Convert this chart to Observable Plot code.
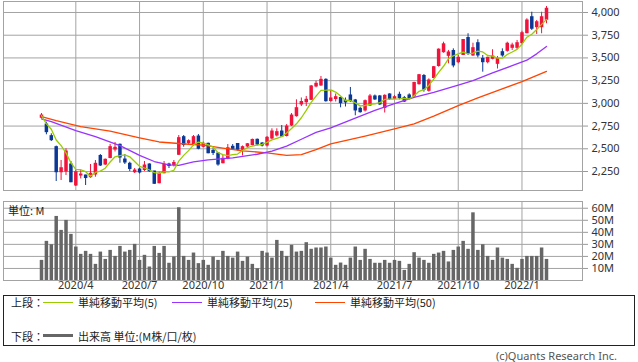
<!DOCTYPE html>
<html><head><meta charset="utf-8">
<script src="https://cdn.jsdelivr.net/npm/d3@7"></script>
<script src="https://cdn.jsdelivr.net/npm/@observablehq/plot@0.6"></script>
<style>
body{margin:0;background:#fff;}
#wrap{position:relative;width:638px;height:362px;overflow:hidden;font-family:"Noto Sans CJK JP","Noto Sans",sans-serif;color:#222;}
#price,#vol{position:absolute;left:0;}
#price{top:0;} #vol{top:200px;}
.t{position:absolute;font-size:11px;line-height:12px;white-space:nowrap;}
.sw{position:absolute;height:1px;}
#legend{position:absolute;left:3px;top:295px;width:630px;height:49px;border:1px solid #222;}
g[aria-label="y-axis"] .tick line, g[aria-label="y-axis tick"]{stroke:#999;}
</style></head>
<body><div id="wrap">
<div id="price"></div>
<div id="vol"></div>
<div class="t" style="left:8px;top:204px;">単位: M</div>
<div id="legend"></div>
<div class="t" style="left:11px;top:296px;">上段：</div>
<div class="sw" style="left:43px;top:302px;width:30px;background:#99cc00;"></div>
<div class="t" style="left:78px;top:296px;">単純移動平均(5)</div>
<div class="sw" style="left:172px;top:302px;width:30px;background:#9933ff;"></div>
<div class="t" style="left:207px;top:296px;">単純移動平均(25)</div>
<div class="sw" style="left:315px;top:302px;width:30px;background:#ff4500;"></div>
<div class="t" style="left:350px;top:296px;">単純移動平均(50)</div>
<div class="t" style="left:11px;top:330px;">下段：</div>
<div class="sw" style="left:43px;top:334px;width:30px;height:3px;background:#666;"></div>
<div class="t" style="left:78px;top:330px;">出来高 単位:(M株/口/枚)</div>
<div class="t" style="right:21px;top:350px;line-height:11px;color:#555;font-family:'Noto Sans',sans-serif;">(c)Quants Research Inc.</div>
</div>
<script>
// weekly candles, week starting 2020-02-10 through 2022-01-31
const firstWeek = "2020-02-10";
const lastWeekEnd = "2022-02-01";
const opens = [2841,2767,2639,2518,2242,2250,2327,2096,2206,2206,
2187,2217,2421,2327,2399,2492,2544,2382,2335,2242,
2272,2267,2327,2250,2121,2231,2327,2322,2434,2628,
2562,2553,2635,2522,2555,2476,2448,2341,2390,2522,
2553,2489,2525,2542,2599,2558,2536,2613,2646,2690,
2641,2756,2859,2988,3013,3039,3186,3197,3259,3026,
3048,3059,3028,3087,3032,2940,2922,2976,3076,3076,
2949,3098,3050,3094,3057,3087,3076,3211,3301,3138,
3279,3411,3563,3523,3576,3453,3532,3719,3527,3662,
3490,3453,3490,3435,3563,3578,3611,3611,3664,3772,
3948,3838,3838,3920];
const highs = [2888,2793,2665,2530,2371,2500,2360,2261,2267,2210,
2327,2371,2437,2388,2547,2569,2553,2437,2352,2283,
2286,2360,2335,2253,2242,2360,2341,2371,2646,2646,
2599,2646,2657,2573,2562,2500,2454,2426,2547,2547,
2558,2531,2558,2608,2608,2569,2635,2720,2720,2756,
2767,2888,3039,3059,3076,3197,3244,3296,3270,3142,
3103,3068,3059,3175,3043,2958,3037,3098,3092,3087,
3094,3105,3087,3123,3076,3105,3233,3318,3318,3270,
3406,3600,3673,3582,3600,3527,3700,3766,3662,3700,
3527,3508,3590,3516,3600,3673,3662,3692,3794,3931,
4003,3912,4003,4066];
const lows = [2830,2654,2580,2140,2151,2206,2126,2085,2168,2096,
2176,2187,2305,2316,2390,2465,2341,2327,2250,2228,
2223,2250,2242,2107,2115,2225,2283,2300,2426,2518,
2547,2528,2489,2511,2445,2426,2308,2335,2379,2481,
2476,2421,2514,2531,2531,2520,2520,2599,2630,2628,
2630,2745,2848,2965,2965,3031,3171,3186,3013,3013,
3015,2951,2960,3010,2863,2892,2905,2965,3032,2976,
2894,3032,3043,3039,3010,3039,3068,3200,3123,3123,
3270,3398,3552,3435,3391,3435,3527,3527,3516,3501,
3343,3435,3479,3378,3508,3563,3582,3590,3648,3766,
3802,3758,3766,3876];
const closes = [2866,2683,2595,2242,2286,2470,2132,2242,2217,2178,
2225,2335,2316,2379,2518,2511,2404,2349,2278,2261,
2239,2316,2253,2115,2225,2324,2311,2344,2617,2542,
2584,2628,2500,2555,2451,2454,2327,2390,2506,2500,
2489,2518,2550,2597,2547,2536,2621,2690,2683,2635,
2745,2866,2947,3015,3039,3186,3215,3259,3024,3054,
3068,3002,3010,3024,2922,2903,3024,3076,3043,2988,
3083,3046,3068,3057,3020,3050,3224,3310,3150,3252,
3398,3591,3650,3560,3417,3501,3697,3545,3607,3527,
3453,3501,3516,3490,3527,3656,3637,3662,3772,3912,
3821,3893,3948,4041];
const volumes = [16.7,32.5,29.7,53.2,41.6,49.9,38.3,27.8,21.7,24.2,
21.7,13.4,23.6,17.5,25.0,20.0,28.3,23.6,25.0,30.0,
16.7,20.9,11.2,28.3,22.5,28.3,14.3,19.5,60.4,20.0,
16.7,22.8,14.0,16.7,12.6,19.5,16.7,24.2,20.0,18.6,
23.6,15.9,19.5,13.4,9.8,24.2,22.8,18.6,33.3,24.2,
20.0,29.2,23.6,24.2,31.4,25.9,27.0,27.0,27.8,18.6,
12.6,14.5,12.6,18.6,27.8,16.7,25.9,17.5,14.3,14.3,
16.7,14.3,16.7,15.9,8.4,13.4,23.1,18.6,16.7,14.3,
21.7,22.8,24.2,15.4,25.0,27.8,32.5,25.9,56.2,25.0,
29.7,20.0,16.7,27.0,18.6,17.5,13.4,10.1,17.5,20.0,
20.0,20.0,27.0,17.5];
// moving averages (week index, value)
const ma25Week = [0,2,7,11,16,20,23,26,28,31,34,39,44,47,50,53,56,59,64,68,72,76,80,85,88,92,96,99,101,103];
const ma25Val  = [2830,2800,2701,2633,2535,2428,2360,2322,2318,2355,2379,2400,2440,2475,2530,2605,2680,2730,2838,2922,2998,3065,3120,3200,3250,3335,3415,3475,3545,3626];
const ma50Week = [0,3,8,14,20,24,30,33,37,41,46,50,53,56,59,66,72,76,80,85,89,93,98,103];
const ma50Val  = [2855,2810,2745,2694,2620,2575,2550,2540,2508,2478,2456,2428,2435,2490,2555,2640,2719,2774,2860,2976,3060,3141,3240,3352];
const priceTicks = [2250,2500,2750,3000,3250,3500,3750,4000];
const volTicks = [10,20,30,40,50,60];
const tickWeeks = ["2020-03-30","2020-06-29","2020-09-28","2020-12-28","2021-03-29","2021-06-28","2021-09-27","2021-12-27"];
const tickLabels = ["2020/4","2020/7","2020/10","2021/1","2021/4","2021/7","2021/10","2022/1"];

const dates = d3.utcMonday.range(new Date(firstWeek), new Date(lastWeekEnd));
const candles = dates.map((date,i)=>({date, open:opens[i], high:highs[i], low:lows[i], close:closes[i], volume:volumes[i]}));
const up = candles.filter(d=>d.close>=d.open), down = candles.filter(d=>d.close<d.open);
const ma25 = ma25Week.map((k,i)=>({date:dates[k], value:ma25Val[i]}));
const ma50 = ma50Week.map((k,i)=>({date:dates[k], value:ma50Val[i]}));
const tickDates = tickWeeks.map(s=>new Date(s));
const DAY = 864e5;
const xDomain = [new Date(+dates[0]-54.25*DAY), new Date(+dates[dates.length-1]+51.4*DAY)];
const grid = "#a3a3a3";
const UP = "#f2133c", DOWN = "#0b3795";
const baseStyle = {fontFamily:"'Noto Sans',sans-serif", fontSize:"11px", color:"#333", background:"transparent", overflow:"visible"};
const fmtComma = d3.format(",");

const bodyOpts = (c)=>({x:"date", y1:d=>Math.max(d.open,d.close), y2:d=>Math.min(d.open,d.close), stroke:c, strokeWidth:3.5, insetTop:-0.5, insetBottom:-0.5});

const price = Plot.plot({
  width:638, height:192, marginLeft:3, marginRight:56, marginTop:1, marginBottom:2,
  style: baseStyle,
  x:{type:"utc", domain:xDomain, axis:null},
  y:{domain:[2041,4121], axis:"right", ticks:priceTicks, tickFormat:d=>fmtComma(d), tickSize:5, tickPadding:4, label:null},
  marks:[
    Plot.ruleY(priceTicks,{stroke:grid}),
    Plot.ruleX(tickDates,{stroke:grid}),
    Plot.frame({stroke:grid}),
    Plot.ruleX(up,{x:"date", y1:"low", y2:"high", stroke:UP, strokeWidth:1}),
    Plot.ruleX(down,{x:"date", y1:"low", y2:"high", stroke:DOWN, strokeWidth:1}),
    Plot.ruleX(up, bodyOpts(UP)),
    Plot.ruleX(down, bodyOpts(DOWN)),
    Plot.line(ma50,{x:"date", y:"value", stroke:"#ff4500", strokeWidth:1.3}),
    Plot.line(ma25,{x:"date", y:"value", stroke:"#9933ff", strokeWidth:1.3}),
    Plot.line(candles, Plot.windowY({k:5, anchor:"end"}, {x:"date", y:"close", stroke:"#99cc00", strokeWidth:1.3}))
  ]
});
document.getElementById("price").appendChild(price);

const vol = Plot.plot({
  width:638, height:96, marginLeft:3, marginRight:56, marginTop:1, marginBottom:16,
  style: baseStyle,
  x:{type:"utc", domain:xDomain, axis:null},
  y:{domain:[0,65.6], axis:"right", ticks:volTicks, tickFormat:d=>d+"M", tickSize:5, tickPadding:4, label:null},
  marks:[
    Plot.ruleY(volTicks,{stroke:grid}),
    Plot.ruleX(tickDates,{stroke:grid}),
    Plot.frame({stroke:grid}),
    Plot.ruleX(candles,{x:"date", y1:d=>0, y2:"volume", stroke:"#666", strokeWidth:3.5}),
    Plot.text(tickDates,{x:d=>d, text:(d,i)=>tickLabels[i], frameAnchor:"bottom", dy:8, fontSize:11, fill:"#333"})
  ]
});
document.getElementById("vol").appendChild(vol);
</script>
</body></html>
